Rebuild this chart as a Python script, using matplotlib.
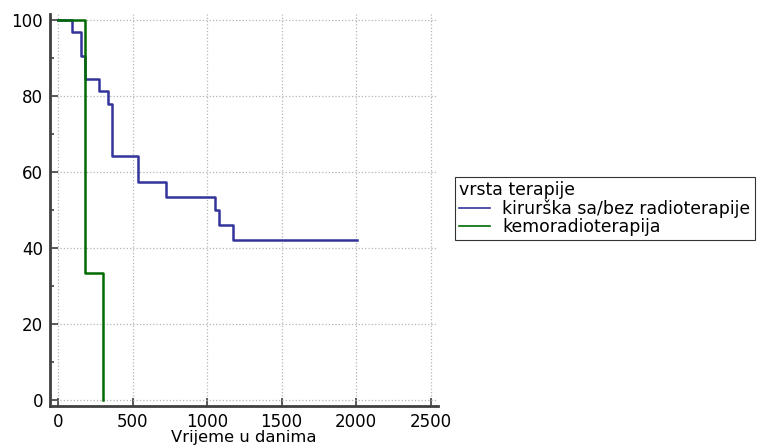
import matplotlib.pyplot as plt
from matplotlib.ticker import MultipleLocator

# Kaplan-Meier survival estimates (%), time in days
surg_days = [0, 92, 152, 182, 273, 333, 360, 539, 723, 1054, 1083, 1172, 2009]
surg_surv = [100, 96.9, 90.6, 84.4, 81.2, 77.8, 64.1, 57.4, 53.5, 50.0, 46.0, 42.2, 42.2]
chemo_days = [0, 181, 300]
chemo_surv = [100, 33.3, 0]

group_labels = ["kirurška sa/bez radioterapije", "kemoradioterapija"]
legend_title = "vrsta terapije"

plt.rcParams['font.family'] = 'DejaVu Sans'
plt.rcParams['font.size'] = 12

fig = plt.figure(figsize=(7.61, 4.48), dpi=100)
ax = fig.add_axes([50/761, 1 - 406/448, 388/761, 392/448])

ax.step(surg_days, surg_surv, where='post', color='#33339c', linewidth=1.8, label=group_labels[0])
ax.step(chemo_days, chemo_surv, where='post', color='#006a00', linewidth=1.8, label=group_labels[1])

ax.set_xlim(-54, 2550)
ax.set_ylim(-1.6, 101.6)
ax.set_xticks([0, 500, 1000, 1500, 2000, 2500])
ax.set_yticks([0, 20, 40, 60, 80, 100])
ax.yaxis.set_minor_locator(MultipleLocator(10))

ax.grid(True, which='major', linestyle=':', color='#b5b5b5', linewidth=0.9)
ax.set_axisbelow(True)

for side in ['top', 'right']:
    ax.spines[side].set_visible(False)
for side in ['left', 'bottom']:
    ax.spines[side].set_linewidth(2)
    ax.spines[side].set_color('#404040')

ax.tick_params(which='major', direction='in', length=6, width=1.2, color='#404040', pad=5)
ax.tick_params(which='minor', direction='in', length=3, width=1.2, color='#404040')
ax.tick_params(axis='x', which='minor', bottom=False)

ax.set_xlabel("Vrijeme u danima", fontsize=11.8, labelpad=-1)

leg = fig.legend(loc='upper left', bbox_to_anchor=(455/761, 1 - 177/448),
                 title=legend_title, alignment='left', fontsize=12.4, title_fontsize=12.4,
                 frameon=True, fancybox=False, edgecolor='black', borderaxespad=0,
                 handlelength=1.8, handletextpad=0.7, labelspacing=0.0, borderpad=0.25)
leg.get_frame().set_linewidth(0.8)
for line in leg.get_lines():
    line.set_linewidth(1.2)

fig.savefig("out.png", dpi=100)
